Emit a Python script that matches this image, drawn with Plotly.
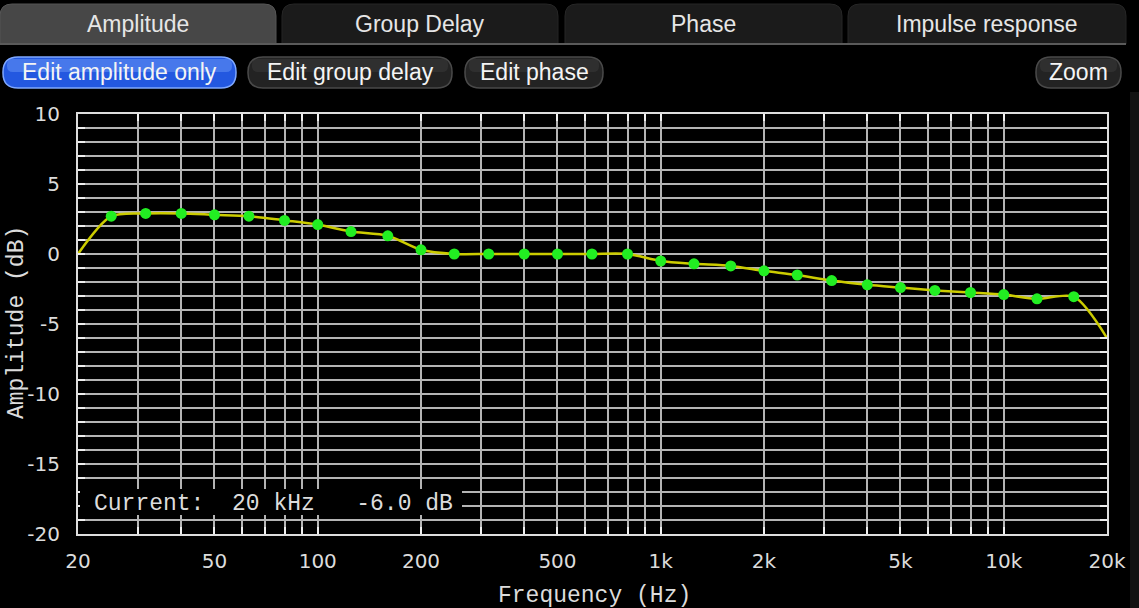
import plotly.graph_objects as go

# 1/3-octave control points of the amplitude curve (Hz, dB)
freqs = [25, 31.5, 40, 50, 63, 80, 100, 125, 160, 200, 250, 315, 400, 500,
         630, 800, 1000, 1250, 1600, 2000, 2500, 3150, 4000, 5000, 6300,
         8000, 10000, 12500, 16000]
gains = [2.7, 2.9, 2.9, 2.8, 2.7, 2.4, 2.1, 1.6, 1.3, 0.3, 0.0, 0.0, 0.0,
         0.0, 0.0, 0.0, -0.5, -0.7, -0.85, -1.2, -1.5, -1.9, -2.2, -2.4,
         -2.6, -2.75, -2.9, -3.2, -3.05]
# curve end values at 20 Hz and 20 kHz
edge_freqs = [20, 20000]
edge_gains = [0.0, -6.0]

x_grid = [20, 30, 40, 50, 60, 70, 80, 90, 100, 200, 300, 400, 500, 600, 700,
          800, 900, 1000, 2000, 3000, 4000, 5000, 6000, 7000, 8000, 9000,
          10000, 20000]
x_labels = {20: "20", 50: "50", 100: "100", 200: "200", 500: "500",
            1000: "1k", 2000: "2k", 5000: "5k", 10000: "10k", 20000: "20k"}
y_grid = list(range(-20, 11))
y_labels = {10: "10", 5: "5", 0: "0", -5: "-5", -10: "-10", -15: "-15", -20: "-20"}

tabs = ["Amplitude", "Group Delay", "Phase", "Impulse response"]
buttons = ["Edit amplitude only", "Edit group delay", "Edit phase", "Zoom"]
current_text = "Current:  20 kHz   -6.0 dB"

W, H = 1139, 608
L, R, T, B = 78, 1107, 114, 534


def fx(x):
    return (x - L) / (R - L)


def fy(y):
    return (B - y) / (B - T)


def rounded(x0, y0, x1, y1, r, square_bottom=False):
    """SVG path (paper coords) for a rounded box given in pixels."""
    def p(x, y):
        return f"{fx(x):.5f},{fy(y):.5f}"
    s = f"M {p(x0 + r, y0)} L {p(x1 - r, y0)} Q {p(x1, y0)} {p(x1, y0 + r)} "
    if square_bottom:
        s += f"L {p(x1, y1)} L {p(x0, y1)} "
    else:
        s += (f"L {p(x1, y1 - r)} Q {p(x1, y1)} {p(x1 - r, y1)} "
              f"L {p(x0 + r, y1)} Q {p(x0, y1)} {p(x0, y1 - r)} ")
    s += f"L {p(x0, y0 + r)} Q {p(x0, y0)} {p(x0 + r, y0)} Z"
    return s


def label(x, y, text, font, **kw):
    d = dict(xref="paper", yref="paper", x=fx(x), y=fy(y), text=text,
             showarrow=False, xanchor="center", yanchor="middle", font=font)
    d.update(kw)
    return d


curve_f = [edge_freqs[0]] + freqs + [edge_freqs[1]]
curve_g = [edge_gains[0]] + gains + [edge_gains[1]]

fig = go.Figure()
fig.add_trace(go.Scatter(
    x=curve_f, y=curve_g, mode="lines",
    line=dict(color="#cccc00", width=2.5, shape="spline", smoothing=0.8),
    hoverinfo="skip", showlegend=False))
fig.add_trace(go.Scatter(
    x=freqs, y=gains, mode="markers",
    marker=dict(color="#22ee22", size=11, line=dict(width=0)),
    showlegend=False))

shapes = []
annotations = []
ui_font = dict(family="Liberation Sans", size=23, color="#e6e6e6")
mono_font = dict(family="Liberation Mono", size=23, color="#dcdcdc")

# tab bar
tab_boxes = [(0, 276), (282, 558), (565, 842), (848, 1126)]
for i, (name, (x0, x1)) in enumerate(zip(tabs, tab_boxes)):
    active = i == 0
    shapes.append(dict(type="path", xref="paper", yref="paper",
                       path=rounded(x0, 4, x1, 44, 12, square_bottom=True),
                       fillcolor="#474747" if active else "#1b1b1b",
                       line=dict(color="#555555" if active else "#262626", width=1)))
    annotations.append(label((x0 + x1) / 2, 24, name, ui_font))
shapes.append(dict(type="line", xref="paper", yref="paper",
                   x0=fx(0), x1=fx(1126), y0=fy(44), y1=fy(44),
                   line=dict(color="#5a5a5a", width=2)))

# buttons row
btn_boxes = [(3, 236), (248, 452), (465, 603), (1036, 1121)]
for i, (name, (x0, x1)) in enumerate(zip(buttons, btn_boxes)):
    active = i == 0
    shapes.append(dict(type="path", xref="paper", yref="paper",
                       path=rounded(x0, 57, x1, 88, 15),
                       fillcolor="#2358e0" if active else "#232323",
                       line=dict(color="#7fa8ff" if active else "#4a4a4a", width=1.5)))
    shapes.append(dict(type="path", xref="paper", yref="paper",
                       path=rounded(x0 + 4, 59, x1 - 4, 72, 6),
                       fillcolor="rgba(140,180,255,0.35)" if active else "rgba(255,255,255,0.06)",
                       line=dict(width=0)))
    annotations.append(label((x0 + x1) / 2, 72, name,
                             dict(ui_font, color="#f4f4f4")))

# faint strip on the right edge
shapes.append(dict(type="rect", xref="paper", yref="paper",
                   x0=fx(1130), x1=fx(1139), y0=fy(92), y1=fy(608),
                   fillcolor="#121212", line=dict(width=0), layer="below"))

# readout box
shapes.append(dict(type="rect", xref="paper", yref="paper",
                   x0=fx(80), x1=fx(462), y0=fy(489), y1=fy(515),
                   fillcolor="#000000", line=dict(width=0), layer="above"))
annotations.append(label(92, 504, current_text, mono_font, xanchor="left"))

# axis titles
annotations.append(label(594, 596, "Frequency (Hz)", mono_font))
annotations.append(label(17, 323, "Amplitude (dB)", mono_font, textangle=-90))

fig.update_layout(
    width=W, height=H,
    margin=dict(l=L, r=W - R, t=T, b=H - B),
    paper_bgcolor="#000000", plot_bgcolor="#000000",
    shapes=shapes, annotations=annotations,
    showlegend=False,
    xaxis=dict(
        type="log", range=[1.30103, 4.30103],
        tickmode="array", tickvals=x_grid,
        ticktext=[x_labels.get(v, "") for v in x_grid],
        showgrid=True, gridcolor="#b4b4b4", gridwidth=1.5,
        ticks="inside", ticklen=7, tickcolor="#eeeeee", tickwidth=1.5,
        showline=True, linecolor="#dedede", linewidth=2, mirror="allticks",
        zeroline=False, ticklabelstandoff=8,
        tickfont=dict(family="DejaVu Sans", size=20, color="#dcdcdc")),
    yaxis=dict(
        range=[-20, 10],
        tickmode="array", tickvals=y_grid,
        ticktext=[y_labels.get(v, "") for v in y_grid],
        showgrid=True, gridcolor="#b4b4b4", gridwidth=1.5,
        ticks="inside", ticklen=7, tickcolor="#eeeeee", tickwidth=1.5,
        showline=True, linecolor="#dedede", linewidth=2, mirror="allticks",
        zeroline=False, ticklabelstandoff=12,
        tickfont=dict(family="DejaVu Sans", size=20, color="#dcdcdc")),
)

# page body has a default margin; drop it so the figure sits at the corner
fig.write_html("out.html", config={"displayModeBar": False},
               post_script="document.body.style.margin='0';")
